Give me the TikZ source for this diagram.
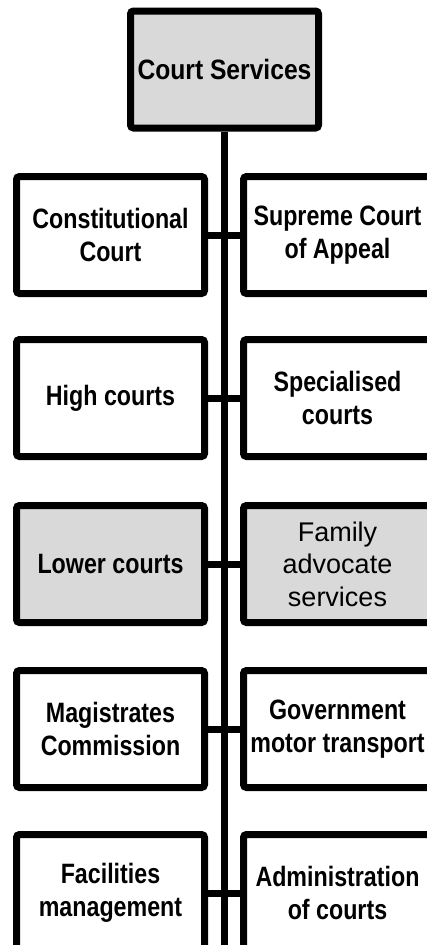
\documentclass[tikz,border=0pt]{standalone}
\usepackage{fontspec}
\setmainfont{Liberation Sans}
\newfontfamily\narrowsans{Liberation Sans}[FakeStretch=0.83]
\newfontfamily\headsans{Liberation Sans}[FakeStretch=0.88]
\definecolor{boxgray}{RGB}{217,217,217}
\begin{document}
\begin{tikzpicture}[x=1pt,y=-1pt]
\tikzset{
  unitbox/.style={draw, line width=7pt, rounded corners=3pt,
    minimum width=188pt, minimum height=117pt, inner sep=0pt,
    align=center, font=\narrowsans\bfseries\fontsize{28}{33}\selectfont},
  shaded/.style={fill=boxgray},
  headface/.style={font=\headsans\bfseries\fontsize{28}{33}\selectfont},
  plainface/.style={font=\fontsize{27}{32.5}\selectfont},
  link/.style={line width=7pt}
}
\clip (0,0) rectangle (427,945);

% head of the organisation
\node[unitbox, shaded, headface] (cs) at (224.5,69.5) {Court Services};
\coordinate (trunkend) at (224.5,950);
\draw[link] (cs.south) -- (trunkend);

% units, paired left and right of the trunk
\node[unitbox] (cc)  at (110.5,235) {Constitutional\\Court};
\node[unitbox] (sca) at (337.5,235) {Supreme Court\\of Appeal};

\node[unitbox] (hc)  at (110.5,398) {High courts};
\node[unitbox] (sc)  at (337.5,398) {Specialised\\courts};

\node[unitbox, shaded] (lc)  at (110.5,564) {Lower courts};
\node[unitbox, shaded, plainface] (fas) at (337.5,564) {Family\\advocate\\services};

\node[unitbox] (mc)  at (110.5,729) {Magistrates\\Commission};
\node[unitbox] (gmt) at (337.5,729) {Government\\motor transport};

\node[unitbox] (fm)  at (110.5,893) {Facilities\\management};
\node[unitbox] (ac)  at (337.5,893) {Administration\\of courts};

% cross links through the trunk
\draw[link] (cc.east) -- (sca.west);
\draw[link] (hc.east) -- (sc.west);
\draw[link] (lc.east) -- (fas.west);
\draw[link] (mc.east) -- (gmt.west);
\draw[link] (fm.east) -- (ac.west);
\end{tikzpicture}
\end{document}
